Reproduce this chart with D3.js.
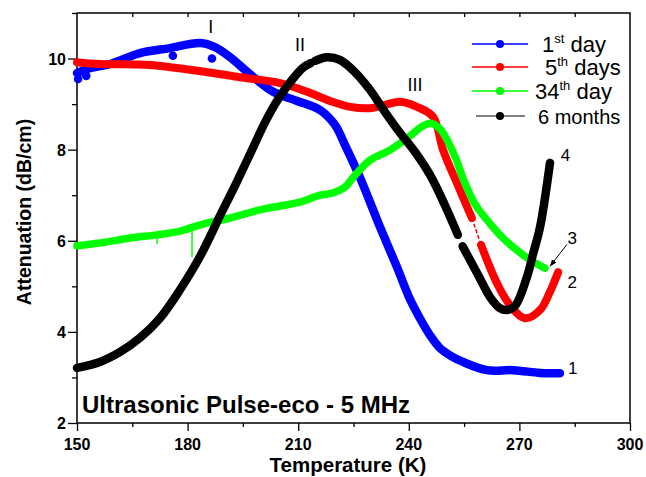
<!DOCTYPE html>
<html><head><meta charset="utf-8">
<script src="https://cdn.jsdelivr.net/npm/d3@7"></script>
<style>
html,body{margin:0;padding:0;background:#fff;}
svg{display:block;font-family:"Liberation Sans",Arial,sans-serif;}
</style></head>
<body>
<svg id="chart" width="646" height="477"></svg>
<script>
// ---------- DATA ----------
const xTicks = [150, 180, 210, 240, 270, 300];
const yTicks = [2, 4, 6, 8, 10];

// 1st day (blue)
const day1 = [[150,9.68],[153.5,9.79],[159,9.88],[167.1,10.12],[175.2,10.23],[183.4,10.34],[187.4,10.25],
  [191.5,10.03],[196.9,9.66],[203.2,9.27],[209.7,9.07],[215.9,8.87],[220.0,8.54],[222.7,8.10],[226.8,7.38],
  [232.2,6.30],[236.8,5.42],[240.3,4.72],[243.0,4.30],[245.8,3.92],[248.5,3.64],[251.5,3.47],[254.7,3.34],
  [261.2,3.16],[268.3,3.16],[275.6,3.10],[281.0,3.09]];
const day1Scatter = [[150.3,9.55],[152.5,9.62],[176.0,10.06],[186.6,10.0]];

// 5th days (red), two pieces around a gap
const day5a = [[150,9.92],[156.2,9.88],[169.8,9.86],[185.3,9.70],[194.2,9.59],[205.1,9.46],[212.4,9.27],
  [218.6,9.07],[224.1,8.94],[229.5,8.91],[233.5,8.98],[237.6,9.05],[242.2,8.94],[246.6,8.72],[249.3,7.99],
  [253.3,7.22],[257.1,6.50]];
const day5b = [[259.6,5.91],[263.9,5.07],[267.4,4.59],[271.5,4.30],[275.6,4.48],[278.3,4.88],[280.5,5.31]];

// 34th day (green)
const day34 = [[150,5.89],[156.2,5.95],[164.4,6.06],[171.7,6.13],[177.9,6.21],[183.4,6.35],[191.5,6.50],
  [199.6,6.68],[210.5,6.85],[215.9,7.00],[219.4,7.05],[222.7,7.18],[225.4,7.44],[229.5,7.77],[234.9,7.99],
  [240.3,8.30],[243.8,8.52],[246.0,8.58],[248.5,8.45],[250.6,8.18],[252.8,7.80],[254.9,7.33],[258.0,6.80],
  [261.2,6.46],[264.7,6.13],[268.3,5.86],[272.9,5.58],[276.9,5.40]];
const day34Spikes = [[171.7,6.13,5.93],[181.2,6.28,5.64]];

// 6 months (black), three pieces
const month6a = [[150,3.21],[156.2,3.34],[161.7,3.56],[167.1,3.87],[172.5,4.30],[177.9,4.92],[183.4,5.66],
  [188.8,6.55],[193.1,7.25],[197.5,8.00],[201.0,8.60],[204.5,9.10],[208.0,9.50],[211.3,9.80],[213.4,9.90]];
const month6b = [[214.6,9.95],[217.8,10.03],[221.3,9.97],[225.4,9.70],[229.5,9.31],[233.5,8.83],[237.6,8.37],
  [241.7,7.95],[245.8,7.44],[249.8,6.78],[253.3,6.13]];
const month6c = [[254.6,5.88],[258.8,5.25],[262.0,4.77],[264.7,4.52],[266.6,4.48],[268.8,4.57],[272.1,5.22],
  [273.7,5.71],[275.6,6.30],[278.3,7.71]];

const legendLabels = [["1","st"," day"],["5","th"," days"],["34","th"," day"],["6 months","",""]];
const peakLabels = [["I",186.3,10.56],["II",210.5,10.17],["III",241.7,9.29]];
const curveLabels = [["1",284.5,3.08],["2",284.3,4.96],["3",284.3,5.93],["4",282.5,7.75]];
const arrow3 = [[282.9,5.92],[278.4,5.45]];

// ---------- CHART ----------
const svg = d3.select("#chart");
const L = 77, R = 630, T = 13, B = 423;
const x = d3.scaleLinear().domain([150,300]).range([L,R]);
const y = d3.scaleLinear().domain([2,11]).range([B,T]);

svg.append("rect").attr("width",646).attr("height",477).attr("fill","#fff");

const defs = svg.append("defs");
defs.append("marker").attr("id","ah").attr("viewBox","0 0 10 10").attr("refX",9).attr("refY",5)
  .attr("markerWidth",7).attr("markerHeight",7).attr("orient","auto")
  .append("path").attr("d","M0,1 L10,5 L0,9 z").attr("fill","#000");

// axes
const minorX = d3.range(150,301,15);
const minorY = d3.range(2,11.01,1);
const gx = svg.append("g").attr("transform",`translate(0,${B})`)
  .call(d3.axisBottom(x).tickValues(minorX).tickSize(4).tickFormat(""));
gx.select(".domain").remove();
gx.selectAll(".tick line").attr("stroke","#000").attr("stroke-width",1.3)
  .attr("y2",d=> xTicks.includes(d)?8:4);
xTicks.forEach(t=>{
  svg.append("text").attr("x",x(t)).attr("y",450).attr("text-anchor","middle")
    .attr("font-size",16).attr("font-weight","bold").text(t);
});
const gy = svg.append("g").attr("transform",`translate(${L},0)`)
  .call(d3.axisLeft(y).tickValues(minorY).tickSize(4).tickFormat(""));
gy.select(".domain").remove();
gy.selectAll(".tick line").attr("stroke","#000").attr("stroke-width",1.3)
  .attr("x2",d=> yTicks.includes(d)?-9:-5);
yTicks.forEach(t=>{
  svg.append("text").attr("x",66).attr("y",y(t)+6).attr("text-anchor","end")
    .attr("font-size",16).attr("font-weight","bold").text(t);
});
const gt = svg.append("g").attr("transform",`translate(0,${T})`)
  .call(d3.axisBottom(x).tickValues(minorX.filter(d=>d>150&&d<300)).tickSize(4).tickFormat(""));
gt.select(".domain").remove();
gt.selectAll(".tick line").attr("stroke","#000").attr("stroke-width",1.3);

svg.append("rect").attr("x",L).attr("y",T).attr("width",R-L).attr("height",B-T)
  .attr("fill","none").attr("stroke","#000").attr("stroke-width",1.5);

// axis titles
svg.append("text").attr("x",348).attr("y",472).attr("text-anchor","middle")
  .attr("font-size",20.5).attr("font-weight","bold").text("Temperature (K)");
svg.append("text").attr("transform","translate(31,212) rotate(-90)").attr("text-anchor","middle")
  .attr("font-size",19.5).attr("font-weight","bold").text("Attenuation (dB/cm)");

// series
const line = d3.line().x(d=>x(d[0])).y(d=>y(d[1])).curve(d3.curveCatmullRom.alpha(0.5));
const plot = svg.append("g");
function drawSeries(data, color, w){
  plot.append("path").attr("d",line(data)).attr("fill","none").attr("stroke",color)
    .attr("stroke-width",w).attr("stroke-linecap","round").attr("stroke-linejoin","round");
}
drawSeries(day1,"#0000ff",8.5);
plot.selectAll(".bs").data(day1Scatter).enter().append("circle")
  .attr("cx",d=>x(d[0])).attr("cy",d=>y(d[1])).attr("r",4.3).attr("fill","#0000ff");
drawSeries(day5a,"#ff0000",8);
drawSeries(day5b,"#ff0000",8);
plot.append("line").attr("x1",x(day5a[day5a.length-1][0])).attr("y1",y(day5a[day5a.length-1][1]))
  .attr("x2",x(day5b[0][0])).attr("y2",y(day5b[0][1])).attr("stroke","#ff0000")
  .attr("stroke-width",1.5).attr("stroke-dasharray","4,2");
drawSeries(day34,"#00ff00",7.5);
day34Spikes.forEach(s=>{
  plot.append("line").attr("x1",x(s[0])).attr("x2",x(s[0])).attr("y1",y(s[1])).attr("y2",y(s[2]))
    .attr("stroke","#00ff00").attr("stroke-width",1.5);
});
drawSeries(month6a,"#000",8.5);
drawSeries(month6b,"#000",8.5);
drawSeries(month6c,"#000",8.5);

// text annotation
svg.append("text").attr("x",82).attr("y",413).attr("font-size",24).attr("font-weight","bold")
  .text("Ultrasonic Pulse-eco - 5 MHz");
peakLabels.forEach(p=>{
  svg.append("text").attr("x",x(p[1])).attr("y",y(p[2])).attr("text-anchor","middle")
    .attr("font-size",18).text(p[0]);
});
curveLabels.forEach(p=>{
  svg.append("text").attr("x",x(p[1])).attr("y",y(p[2])).attr("text-anchor","middle")
    .attr("font-size",17).text(p[0]);
});
svg.append("line").attr("x1",x(arrow3[0][0])).attr("y1",y(arrow3[0][1]))
  .attr("x2",x(arrow3[1][0])).attr("y2",y(arrow3[1][1])).attr("stroke","#000")
  .attr("stroke-width",1).attr("marker-end","url(#ah)");

// legend
const legColors = ["#0000ff","#ff0000","#00ff00","#000"];
const legRows = [44,67,91,116];
const legTextX = [542,545,535,538];
const legSize = [22,22,22,20];
legendLabels.forEach((lab,i)=>{
  const g = svg.append("g");
  g.append("line").attr("x1",i===3?476:472).attr("x2",i===3?525:528).attr("y1",legRows[i]).attr("y2",legRows[i])
    .attr("stroke",legColors[i]).attr("stroke-width",i===3?1:1.5);
  g.append("circle").attr("cx",500).attr("cy",legRows[i]).attr("r",4).attr("fill",legColors[i]);
  const t = g.append("text").attr("x",legTextX[i]).attr("y",legRows[i]+8).attr("font-size",legSize[i]);
  t.append("tspan").text(lab[0]);
  if(lab[1]){
    t.append("tspan").attr("font-size",13).attr("dy",-9).text(lab[1]);
    t.append("tspan").attr("dy",9).text(lab[2]);
  }
});
</script>
</body></html>
